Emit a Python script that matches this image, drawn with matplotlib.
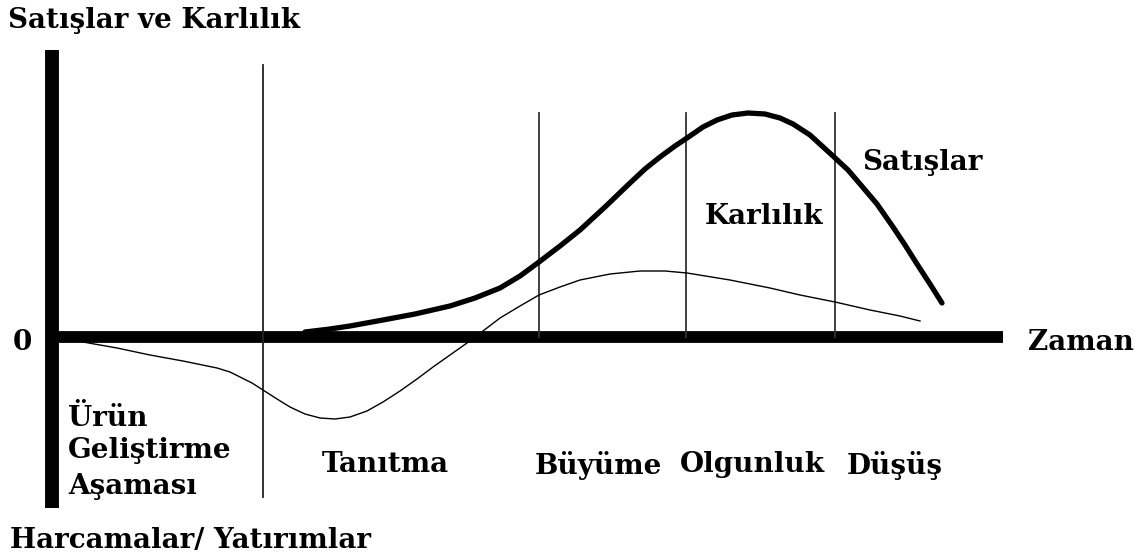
import numpy as np
import matplotlib
matplotlib.use('Agg')
import matplotlib.pyplot as plt

# okunan değerler: x = zaman, y = değer (0 çizgisine göre)
satis_x = [253, 278, 298, 331, 363, 398, 423, 448, 468, 487, 508, 528, 553, 578, 593, 608, 623, 635,
           651, 665, 680, 696, 713, 728, 741, 758, 781, 796, 808, 825, 841, 853, 865, 878, 890]
satis_y = [5, 8, 11, 17, 23, 31, 39, 49, 61, 75, 91, 107, 130, 154, 168, 180, 191, 199,
           210, 217, 222, 224, 223, 219, 213, 202, 181, 167, 153, 133, 110, 92, 73, 53, 34]

kar_x = [31, 65, 98, 131, 165, 178, 188, 200, 211, 225, 238, 253, 268, 283, 298, 315, 331, 348, 365, 381,
         398, 415, 431, 448, 468, 487, 508, 528, 558, 588, 613, 635, 678, 718, 748, 783, 818, 848, 868]
kar_y = [-5, -11, -18, -24, -31, -35, -40, -46, -53, -62, -70, -77, -81, -82, -80, -74, -65, -54, -42, -30,
         -18, -6, 6, 19, 31, 42, 50, 57, 63, 66, 66, 64, 57, 49, 42, 35, 27, 21, 16]

asama_sinirlari = [211, 487, 634, 783]
asama_adlari = ['Tanıtma', 'Büyüme', 'Olgunluk', 'Düşüş']
asama_x = [270, 483, 628, 795]

plt.rcParams['font.family'] = ['DejaVu Serif']

fig = plt.figure(figsize=(11.47, 5.55), dpi=100)
ax = fig.add_axes([0, 0, 1, 1])
ax.set_xlim(-52, 1095)
ax.set_ylim(-218, 337)
ax.axis('off')

# eksenler
ax.plot([0, 0], [287, -171], color='black', lw=10, solid_capstyle='butt')
ax.plot([0, 951], [0, 0], color='black', lw=8.5, solid_capstyle='butt')

# aşama çizgileri
ax.plot([asama_sinirlari[0]] * 2, [272, -160], color='#222222', lw=1.3)
for xs in asama_sinirlari[1:]:
    ax.plot([xs, xs], [224, 0], color='#333333', lw=1.3)

# eğriler
ax.plot(satis_x, satis_y, color='black', lw=3.8, solid_capstyle='round', solid_joinstyle='round')
ax.plot(kar_x, kar_y, color='black', lw=1.0)

fs = 20
kw = dict(fontsize=fs, fontweight='bold', va='center')
ax.text(-44, 317, 'Satışlar ve Karlılık', **kw)
ax.text(-39, -6, '0', **kw)
ax.text(976, -6, 'Zaman', **kw)
ax.text(16, -81, 'Ürün', **kw)
ax.text(16, -114, 'Geliştirme', **kw)
ax.text(16, -150, 'Aşaması', **kw)
for ad, xs in zip(asama_adlari, asama_x):
    ax.text(xs, -128, ad, **kw)
ax.text(653, 120, 'Karlılık', **kw)
ax.text(810, 175, 'Satışlar', **kw)
ax.text(-42, -203, 'Harcamalar/ Yatırımlar', **kw)

fig.savefig('out.png', dpi=100)
